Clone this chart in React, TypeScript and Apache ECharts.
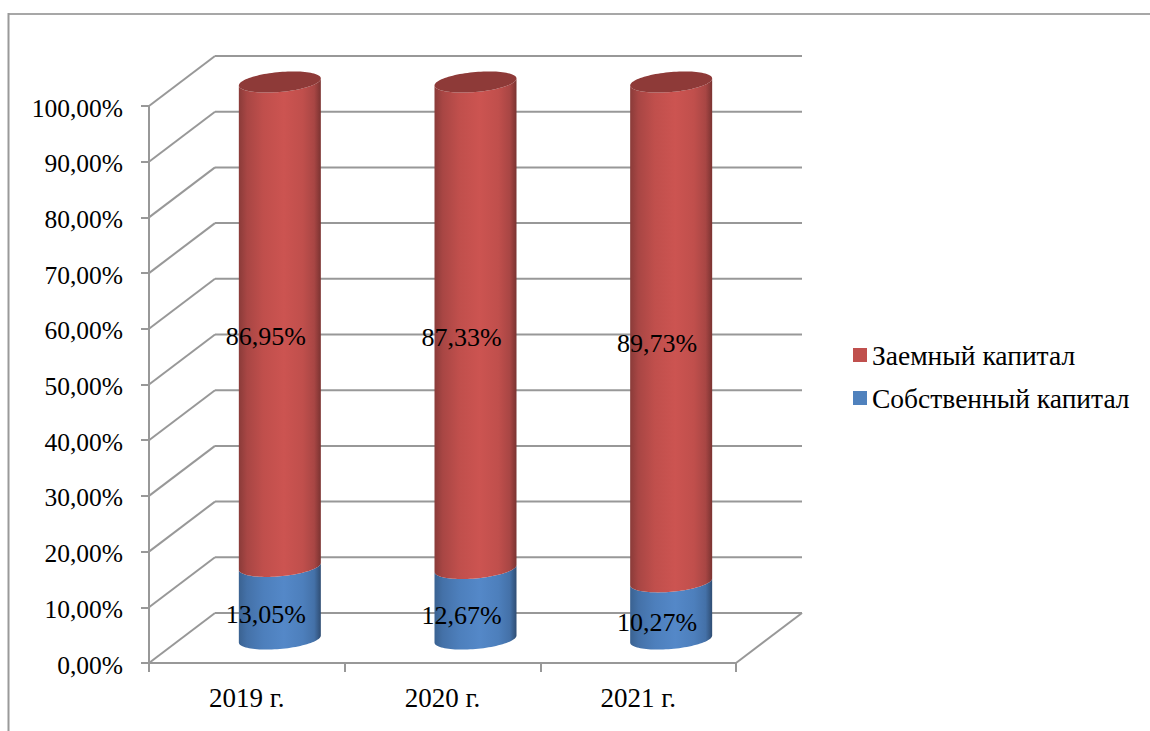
import React, { useEffect, useRef } from "react";
import * as echarts from "echarts";

const years = ["2019 г.", "2020 г.", "2021 г."];
const ownCapital = [13.05, 12.67, 10.27];
const borrowedCapital = [86.95, 87.33, 89.73];
const gridTicks = [0, 10, 20, 30, 40, 50, 60, 70, 80, 90, 100];

const OWN_NAME = "Собственный капитал";
const BORROWED_NAME = "Заемный капитал";
const FONT = "Liberation Serif, Times New Roman, serif";
const LINE = "#989898";

// Oblique offset between the front plane and the back wall of the 3D box.
const DEPTH_X = 66;
const DEPTH_Y = 50;
// Cylinder geometry, placed at mid depth of the box.
const RADIUS = 41;
const CAP_TILT = 3.5;
const CAP_MINOR = 10;
const CAP_STEPS = 48;

const percent = (v: number) => v.toFixed(2).replace(".", ",") + "%";

// Point on the tilted elliptical cross-section of a cylinder.
const rim = (cx: number, cy: number, t: number): number[] => [
  cx + RADIUS * Math.cos(t),
  cy - CAP_TILT * Math.cos(t) + CAP_MINOR * Math.sin(t),
];

const frontArc = (cx: number, cy: number): number[][] => {
  const pts: number[][] = [];
  for (let i = 0; i <= CAP_STEPS; i++) pts.push(rim(cx, cy, (Math.PI * i) / CAP_STEPS));
  return pts;
};

const fullRim = (cx: number, cy: number): number[][] => {
  const pts: number[][] = [];
  for (let i = 0; i < CAP_STEPS * 2; i++) pts.push(rim(cx, cy, (Math.PI * i) / CAP_STEPS));
  return pts;
};

// Horizontal shading across a cylinder, darkest at both silhouettes.
const shade = (stops: string[]) =>
  new echarts.graphic.LinearGradient(0, 0, 1, 0, [
    { offset: 0, color: stops[0] },
    { offset: 0.1, color: stops[1] },
    { offset: 0.3, color: stops[2] },
    { offset: 0.55, color: stops[3] },
    { offset: 0.78, color: stops[2] },
    { offset: 0.92, color: stops[1] },
    { offset: 1, color: stops[4] },
  ]);

// One stacked cylinder segment: side surface, optional top cap and its value label.
const cylinderSeries = (
  name: string,
  color: string,
  stops: string[],
  capColor: string | null,
  rows: number[][],
  z: number,
) => ({
  type: "custom" as const,
  name,
  z,
  clip: false,
  itemStyle: { color },
  encode: { x: 0, y: [1, 2] },
  data: rows,
  renderItem: (_params: any, api: any) => {
    const idx = api.value(0);
    const from = api.value(1);
    const to = api.value(2);
    const [fx, y0] = api.coord([idx, from]);
    const [, y1] = api.coord([idx, to]);
    const [, yMid] = api.coord([idx, (from + to) / 2]);
    const cx = fx + DEPTH_X / 2;
    const lower = y0 - DEPTH_Y / 2 + 1;
    const upper = y1 - DEPTH_Y / 2 + 1;
    const children: any[] = [
      {
        type: "polygon",
        shape: { points: [...frontArc(cx, lower), ...frontArc(cx, upper).reverse()] },
        style: { fill: shade(stops) },
      },
    ];
    if (capColor) {
      children.push({
        type: "polygon",
        shape: { points: fullRim(cx, upper) },
        style: { fill: capColor },
      });
    }
    children.push({
      type: "text",
      style: {
        text: percent(to - from),
        x: fx + 19,
        y: yMid - 12,
        align: "center",
        verticalAlign: "middle",
        font: `26px ${FONT}`,
        fill: "#000",
      },
    });
    return { type: "group", children };
  },
});

export default function App() {
  const ref = useRef<HTMLDivElement>(null);

  useEffect(() => {
    const chart = echarts.init(ref.current!, undefined, { renderer: "svg" });
    chart.setOption({
      animation: false,
      backgroundColor: "#fff",
      textStyle: { fontFamily: FONT },
      grid: { left: 149, top: 106, width: 587, height: 557, containLabel: false },
      xAxis: {
        type: "category",
        data: years,
        boundaryGap: true,
        axisLine: { lineStyle: { color: LINE, width: 2 } },
        axisTick: { show: true, length: 9, alignWithLabel: false, lineStyle: { color: LINE, width: 2 } },
        axisLabel: { color: "#000", fontSize: 27, fontFamily: FONT, margin: 21 },
      },
      yAxis: {
        type: "value",
        min: 0,
        max: 100,
        interval: 10,
        axisLine: { show: true, lineStyle: { color: LINE, width: 2 } },
        axisTick: { show: true, length: 8, lineStyle: { color: LINE, width: 2 } },
        splitLine: { show: false },
        axisLabel: {
          color: "#000",
          margin: 26,
          formatter: (v: number) => `{tick|${percent(v)}}`,
          rich: {
            tick: { fontSize: 25.5, fontFamily: FONT, color: "#000", padding: [4, 0, 0, 0] },
          },
        },
      },
      legend: {
        orient: "vertical",
        left: 848,
        top: 336,
        itemWidth: 14,
        itemHeight: 14,
        itemGap: 15,
        icon: "rect",
        data: [BORROWED_NAME, OWN_NAME],
        textStyle: { color: "#000", fontSize: 27.5, fontFamily: FONT },
      },
      graphic: [
        // Outer frame of the chart area
        { type: "line", silent: true, shape: { x1: 8, y1: 14, x2: 1150, y2: 14 }, style: { stroke: "#8a8a8a", lineWidth: 1.5 } },
        { type: "line", silent: true, shape: { x1: 8.5, y1: 13, x2: 8.5, y2: 731 }, style: { stroke: "#9a9a9a", lineWidth: 2 } },
      ],
      series: [
        // Back wall gridlines with their oblique floor and side returns
        {
          type: "custom",
          z: 1,
          clip: false,
          silent: true,
          encode: { x: 0, y: 1 },
          data: gridTicks.map((v) => [0, v]),
          renderItem: (params: any, api: any) => {
            const v = api.value(1);
            const left = params.coordSys.x;
            const right = left + params.coordSys.width;
            const y = api.coord([0, v])[1];
            const line = (x1: number, y1: number, x2: number, y2: number) => ({
              type: "line",
              shape: { x1, y1, x2, y2 },
              style: { stroke: LINE, lineWidth: 2 },
            });
            const children = [
              line(left, y, left + DEPTH_X, y - DEPTH_Y),
              line(left + DEPTH_X, y - DEPTH_Y, right + DEPTH_X, y - DEPTH_Y),
            ];
            if (v === 0) children.push(line(right, y, right + DEPTH_X, y - DEPTH_Y));
            return { type: "group", children };
          },
        },
        cylinderSeries(
          OWN_NAME,
          "#4f81bd",
          ["#3a6291", "#4471a8", "#4d7fbc", "#5488c8", "#2f4d73"],
          null,
          ownCapital.map((v, i) => [i, 0, v]),
          2,
        ),
        cylinderSeries(
          BORROWED_NAME,
          "#c0504d",
          ["#8a3b39", "#a84644", "#c04f4c", "#cc5451", "#7a3331"],
          "#8e3a38",
          borrowedCapital.map((v, i) => [i, ownCapital[i], ownCapital[i] + v]),
          3,
        ),
      ],
    });
    return () => chart.dispose();
  }, []);

  return <div ref={ref} style={{ position: "fixed", left: 0, top: 0, width: 1150, height: 731 }} />;
}
